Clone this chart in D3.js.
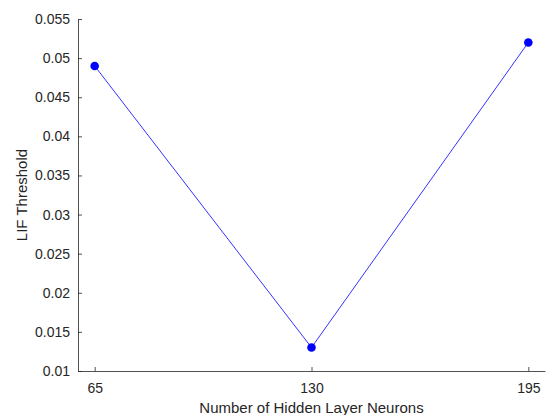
<!DOCTYPE html>
<html>
<head>
<meta charset="utf-8">
<script src="https://cdn.jsdelivr.net/npm/d3@7"></script>
<style>
  body { margin: 0; background: #fff; }
  text { font-family: "Liberation Sans", Arial, sans-serif; fill: #262626; }
</style>
</head>
<body>
<div class="chart"></div>
<script>
// data
const neurons = [65, 130, 195];
const threshold = [0.049, 0.013, 0.052];
const xTicks = [65, 130, 195];
const yTicks = [0.01, 0.015, 0.02, 0.025, 0.03, 0.035, 0.04, 0.045, 0.05, 0.055];

function init(){
    const w = 547, h = 415;
    const left = 78, right = 545, top = 19, bottom = 371;

    const svg = d3.select(".chart").append("svg").attr("width", w).attr("height", h);

    const x = d3.scaleLinear().domain([60, 200]).range([left, right]);
    const y = d3.scaleLinear().domain([0.01, 0.055]).range([bottom, top]);

    // x axis, ticks pointing inwards
    const gx = svg.append("g")
      .attr("transform", `translate(0,${bottom})`)
      .call(d3.axisBottom(x).tickValues(xTicks).tickSizeInner(-4).tickSizeOuter(0).tickPadding(12));
    gx.selectAll("text").attr("font-size", 14).attr("dy", "0.71em");

    const gy = svg.append("g")
      .attr("transform", `translate(${left},0)`)
      .call(d3.axisLeft(y).tickValues(yTicks).tickFormat(d => d3.format("")(+d.toFixed(3))).tickSizeInner(-4).tickSizeOuter(0).tickPadding(8));
    gy.selectAll("text").attr("font-size", 14);

    svg.selectAll(".domain, .tick line").attr("stroke", "#262626").attr("stroke-width", 0.8);
    svg.selectAll(".tick text").attr("fill", "#262626").style("font-family", "'Liberation Sans', Arial, sans-serif");

    // line
    const line = d3.line().x((d, i) => x(neurons[i])).y(d => y(d));
    svg.append("path")
      .datum(threshold)
      .attr("d", line)
      .attr("fill", "none")
      .attr("stroke", "#3333ff")
      .attr("stroke-width", 1);

    svg.selectAll("circle")
      .data(threshold)
      .join("circle")
      .attr("cx", (d, i) => x(neurons[i]))
      .attr("cy", d => y(d))
      .attr("r", 4.3)
      .attr("fill", "#0000ff");

    // labels
    svg.append("text")
      .attr("x", (left + right) / 2)
      .attr("y", 413)
      .attr("text-anchor", "middle")
      .attr("font-size", 15)
      .text("Number of Hidden Layer Neurons");

    svg.append("text")
      .attr("transform", `translate(27,${(top + bottom) / 2}) rotate(-90)`)
      .attr("text-anchor", "middle")
      .attr("font-size", 15)
      .text("LIF Threshold");
}
window.onload = init;
</script>
</body>
</html>
